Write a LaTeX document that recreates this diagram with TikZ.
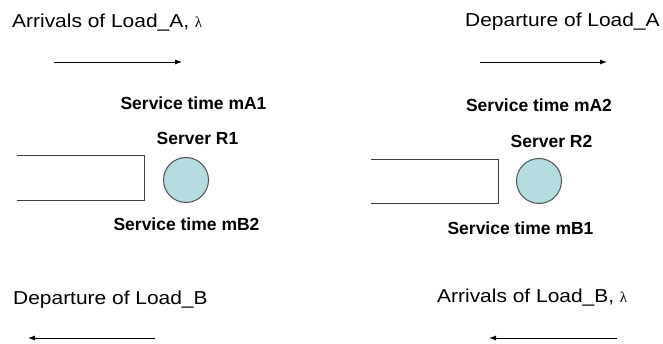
\documentclass[tikz,border=0pt]{standalone}
\usepackage{fontspec}
\setmainfont{Liberation Sans}
\newfontfamily\lblfont[FakeStretch=1.12]{Liberation Sans}
\newfontfamily\lamfont{Liberation Serif}
\usetikzlibrary{arrows.meta}
\definecolor{srvfill}{RGB}{178,220,224}
\definecolor{srvline}{RGB}{80,80,80}
\definecolor{boxline}{RGB}{64,64,64}

\begin{document}
\begin{tikzpicture}[x=1pt,y=-1pt,
    flow/.style={-{Latex[length=7pt,width=5pt]},line width=0.9pt},
    loadlbl/.style={anchor=base west,inner sep=0pt,font=\lblfont\fontsize{18.7}{20}\selectfont},
    srvlbl/.style={anchor=base,inner sep=0pt,font=\bfseries\fontsize{17.5}{19}\selectfont},
    queue/.style={minimum width=127pt,minimum height=44pt,inner sep=0pt},
    server/.style={circle,draw=srvline,fill=srvfill,line width=1pt,minimum size=45pt,inner sep=0pt}]
    \useasboundingbox (0,0) rectangle (663,344);

    % Load labels
    \node[loadlbl] (arrA) at (12,28) {Arrivals of Load\_A, {\lamfont\fontsize{15}{18}\selectfont λ}};
    \node[loadlbl] (depA) at (465,27) {Departure of Load\_A};
    \node[loadlbl] (depB) at (13,304) {Departure of Load\_B};
    \node[loadlbl] (arrB) at (437,302) {Arrivals of Load\_B, {\lamfont\fontsize{15}{18}\selectfont λ}};

    % Flow arrows
    \coordinate (a1) at (54,62);   \coordinate (a2) at (182,62);
    \coordinate (a3) at (480,62);  \coordinate (a4) at (607,62);
    \coordinate (b1) at (617,338); \coordinate (b2) at (489,338);
    \coordinate (b3) at (155,338); \coordinate (b4) at (28,338);
    \draw[flow] (a1) -- (a2);
    \draw[flow] (a3) -- (a4);
    \draw[flow] (b1) -- (b2);
    \draw[flow] (b3) -- (b4);

    % Queues and servers
    \node[queue] (q1) at (81,178) {};
    \node[queue] (q2) at (435,181.5) {};
    \foreach \q in {q1,q2}{
    \draw[boxline,line width=1.1pt] (\q.north west) -- (\q.north east) -- (\q.south east) -- (\q.south west);
    }
    \node[server] (r1) at (186,180) {};
    \node[server] (r2) at (539,181) {};

    % Server labels
    \node[srvlbl] (smA1) at (193.5,110) {Service time mA1};
    \node[srvlbl] (sR1) at (197.5,145) {Server R1};
    \node[srvlbl] (smB2) at (186.5,231) {Service time mB2};
    \node[srvlbl] (smA2) at (539,112) {Service time mA2};
    \node[srvlbl] (sR2) at (551.5,148) {Server R2};
    \node[srvlbl] (smB1) at (520.5,235) {Service time mB1};
\end{tikzpicture}
\end{document}
